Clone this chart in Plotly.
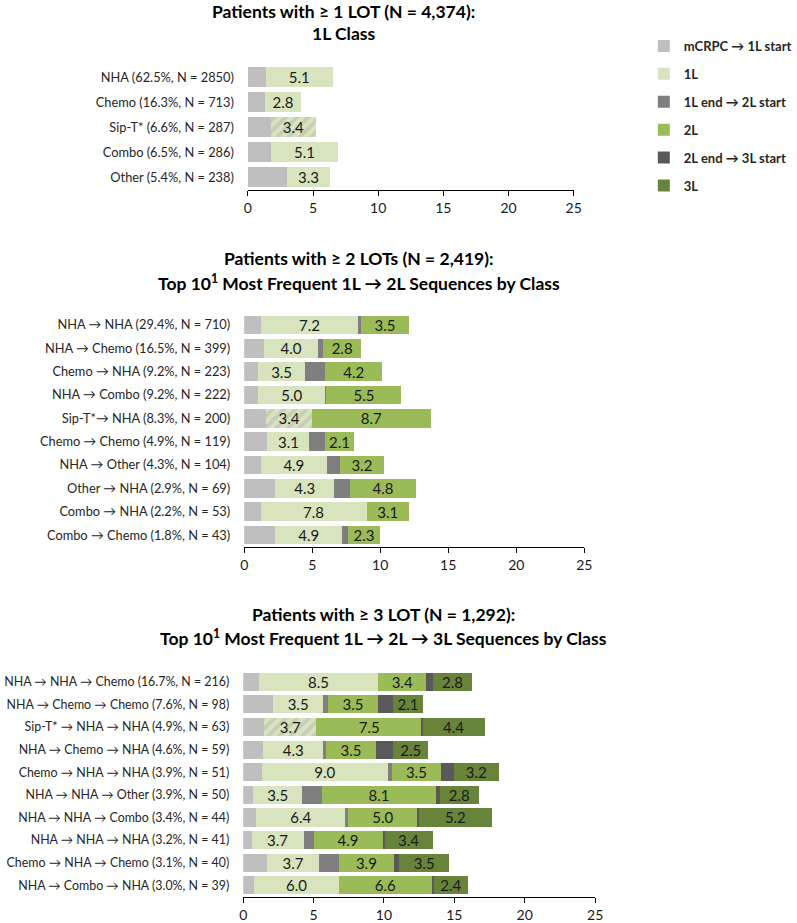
import plotly.graph_objects as go

# ---- data (years) ----
labels1 = ["NHA (62.5%, N = 2850)", "Chemo (16.3%, N = 713)", "Sip-T* (6.6%, N = 287)",
           "Combo (6.5%, N = 286)", "Other (5.4%, N = 238)"]
p1_pre = [1.4, 1.3, 1.8, 1.8, 3.0]
p1_1L = [5.1, 2.8, 3.4, 5.1, 3.3]

labels2 = ["NHA → NHA (29.4%, N = 710)", "NHA → Chemo (16.5%, N = 399)",
           "Chemo → NHA (9.2%, N = 223)", "NHA → Combo (9.2%, N = 222)",
           "Sip-T*→ NHA (8.3%, N = 200)", "Chemo → Chemo (4.9%, N = 119)",
           "NHA → Other (4.3%, N = 104)", "Other → NHA (2.9%, N = 69)",
           "Combo → NHA (2.2%, N = 53)", "Combo → Chemo (1.8%, N = 43)"]
p2_pre = [1.2, 1.45, 1.0, 1.0, 1.6, 1.7, 1.2, 2.3, 1.2, 2.3]
p2_1L = [7.2, 4.0, 3.5, 5.0, 3.4, 3.1, 4.9, 4.3, 7.8, 4.9]
p2_gap = [0.2, 0.35, 1.45, 0.05, 0.0, 1.15, 0.95, 1.2, 0.0, 0.45]
p2_2L = [3.5, 2.8, 4.2, 5.5, 8.7, 2.1, 3.2, 4.8, 3.1, 2.3]

labels3 = ["NHA → NHA → Chemo (16.7%, N = 216)", "NHA → Chemo → Chemo (7.6%, N = 98)",
           "Sip-T* → NHA → NHA (4.9%, N = 63)", "NHA → Chemo → NHA (4.6%, N = 59)",
           "Chemo → NHA → NHA (3.9%, N = 51)", "NHA → NHA → Other (3.9%, N = 50)",
           "NHA → NHA → Combo (3.4%, N = 44)", "NHA → NHA → NHA (3.2%, N = 41)",
           "Chemo → NHA → Chemo (3.1%, N = 40)", "NHA → Combo → NHA (3.0%, N = 39)"]
p3_pre = [1.1, 2.15, 1.5, 1.4, 1.3, 0.7, 0.9, 0.6, 1.7, 0.8]
p3_1L = [8.5, 3.5, 3.7, 4.3, 9.0, 3.5, 6.4, 3.7, 3.7, 6.0]
p3_gap1 = [0.0, 0.4, 0.0, 0.2, 0.25, 1.4, 0.12, 0.7, 1.4, 0.0]
p3_2L = [3.4, 3.5, 7.5, 3.5, 3.5, 8.1, 5.0, 4.9, 3.9, 6.6]
p3_gap2 = [0.47, 1.1, 0.05, 1.25, 0.9, 0.25, 0.05, 0.15, 0.4, 0.15]
p3_3L = [2.8, 2.1, 4.4, 2.5, 3.2, 2.8, 5.2, 3.4, 3.5, 2.4]

titles = [("Patients with ≥ 1 LOT (N = 4,374):", "1L Class"),
          ("Patients with ≥ 2 LOTs (N = 2,419):",
           "Top 10<sup>1</sup> Most Frequent 1L → 2L Sequences by Class"),
          ("Patients with ≥ 3 LOT (N = 1,292):",
           "Top 10<sup>1</sup> Most Frequent 1L → 2L → 3L Sequences by Class")]

seg_names = ["mCRPC → 1L start", "1L", "1L end → 2L start", "2L", "2L end → 3L start", "3L"]
seg_colors = ["#BFBFBF", "#D7E4BD", "#7F7F7F", "#9BBB59", "#595959", "#68843A"]
labelled = {"1L", "2L", "3L"}

FONT = "Lato, 'Open Sans', sans-serif"
W, H = 797, 923


def px(x):
    return x / W


def py(y):
    return 1 - y / H


fig = go.Figure()


def add_bar(labels, vals, seg, ax, legend):
    i = seg_names.index(seg)
    marker = dict(color=seg_colors[i], line=dict(width=0))
    if seg == "1L":
        # Sip-T* rows are hatched
        marker["pattern"] = dict(shape=["/" if "Sip-T" in l else "" for l in labels],
                                 fgcolor="#B4B4B4", size=8, solidity=0.45)
    show_txt = seg in labelled
    fig.add_trace(go.Bar(
        y=labels, x=vals, orientation="h", name=seg, legendgroup=seg,
        showlegend=legend, marker=marker,
        xaxis="x" + ax, yaxis="y" + ax,
        text=[f"{v:.1f}" for v in vals] if show_txt else None,
        textposition="inside" if show_txt else "none",
        insidetextanchor="middle", textangle=0, constraintext="none",
        textfont=dict(family=FONT, size=15, color="#1a1a1a"),
        hoverinfo="x+y+name",
    ))


add_bar(labels1, p1_pre, "mCRPC → 1L start", "", False)
add_bar(labels1, p1_1L, "1L", "", False)

add_bar(labels2, p2_pre, "mCRPC → 1L start", "2", False)
add_bar(labels2, p2_1L, "1L", "2", False)
add_bar(labels2, p2_gap, "1L end → 2L start", "2", False)
add_bar(labels2, p2_2L, "2L", "2", False)

add_bar(labels3, p3_pre, "mCRPC → 1L start", "3", True)
add_bar(labels3, p3_1L, "1L", "3", True)
add_bar(labels3, p3_gap1, "1L end → 2L start", "3", True)
add_bar(labels3, p3_2L, "2L", "3", True)
add_bar(labels3, p3_gap2, "2L end → 3L start", "3", True)
add_bar(labels3, p3_3L, "3L", "3", True)

# pixel boxes of the three panels: (left, right, top, bottom)
boxes = [(251, 581, 64.5, 190), (247.3, 591.7, 313.3, 546.7), (246.3, 602.7, 670.4, 896.7)]
title_y = [(12, 33), (258, 282), (614, 637)]
title_x = [348, 364, 388]
ytick_size = [12.8, 12.8, 12.4]

xax = dict(range=[0, 25], dtick=5, showgrid=False, zeroline=False,
           showline=True, linecolor="#000000", linewidth=1.3,
           ticks="outside", ticklen=5, tickcolor="#000000",
           tickfont=dict(family=FONT, size=14, color="#1a1a1a"), automargin=False)

layout = {}
for k, (l, r, t, b) in enumerate(boxes):
    suf = "" if k == 0 else str(k + 1)
    layout["xaxis" + suf] = dict(xax, domain=[px(l), px(r)], anchor="y" + suf)
    layout["yaxis" + suf] = dict(
        autorange="reversed", showgrid=False, showline=False, ticks="",
        ticklabelstandoff=13, automargin=False,
        tickfont=dict(family=FONT, size=ytick_size[k], color="#262626"),
        domain=[py(b), py(t)], anchor="x" + suf)

annotations = []
for (l1, l2), (y1, y2), xc in zip(titles, title_y, title_x):
    for txt, yy in ((l1, y1), (l2, y2)):
        annotations.append(dict(text="<b>" + txt + "</b>", x=px(xc), y=py(yy),
                                xref="paper", yref="paper", showarrow=False,
                                xanchor="center", yanchor="middle",
                                font=dict(family=FONT, size=17.5, color="#000000")))

fig.update_layout(
    **layout,
    width=W, height=H,
    margin=dict(l=0, r=0, t=0, b=0),
    barmode="stack", bargap=0.2,
    paper_bgcolor="white", plot_bgcolor="white",
    annotations=annotations,
    legend=dict(x=px(652), y=py(31), xanchor="left", yanchor="top",
                traceorder="grouped", tracegroupgap=8,
                font=dict(family=FONT, size=13, color="#262626", weight="bold"),
                bgcolor="rgba(0,0,0,0)"),
    font=dict(family=FONT),
)

# drop the default page margin so the figure sits at the window's corner
fig.write_html("out.html", config={"displayModeBar": False},
               post_script="document.body.style.margin='0';")
